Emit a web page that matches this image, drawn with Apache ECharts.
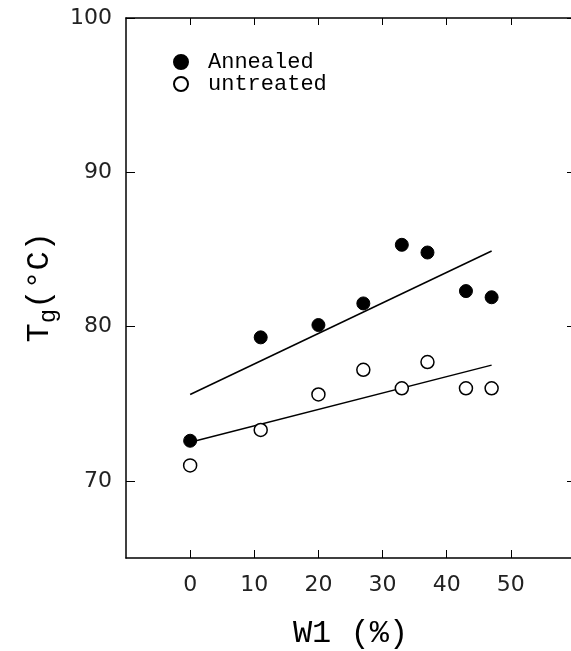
<!DOCTYPE html>
<html>
<head>
<meta charset="utf-8">
<script src="https://cdn.jsdelivr.net/npm/echarts@6/dist/echarts.min.js"></script>
<style>html,body{margin:0;padding:0;background:#fff;}#c{width:571px;height:651px;}</style>
</head>
<body>
<div id="c"></div>
<script>
// Data
var w1 = [0, 11, 20, 27, 33, 37, 43, 47];
var annealed = [72.6, 79.3, 80.1, 81.5, 85.3, 84.8, 82.3, 81.9];
var untreated = [71.0, 73.3, 75.6, 77.2, 76.0, 77.7, 76.0, 76.0];
var annealedFitX = [0, 47];
var annealedFitY = [75.6, 84.9];
var untreatedFitX = [0, 47];
var untreatedFitY = [72.5, 77.5];
var xTicks = [0, 10, 20, 30, 40, 50];
var yTicks = [70, 80, 90, 100];

function pairs(xs, ys) { return xs.map(function (x, i) { return [x, ys[i]]; }); }

var chart = echarts.init(document.getElementById('c'));
var labelFont = { fontFamily: 'DejaVu Sans', fontSize: 22, color: '#222' };
var mono = 'Liberation Mono';
chart.setOption({
  animation: false,
  backgroundColor: '#fff',
  grid: { left: 126, top: 18, width: 449, height: 540, outerBoundsMode: 'none', containLabel: false },
  legend: {
    orient: 'vertical', left: 168, top: 46, itemGap: 0,
    itemWidth: 14, itemHeight: 14,
    textStyle: { fontFamily: mono, fontSize: 22, lineHeight: 21, color: '#000', padding: [0, 0, 0, 15] },
    data: ['Annealed', 'untreated']
  },
  xAxis: [{
    type: 'value', min: -10, max: 60, interval: 10, position: 'bottom',
    name: 'W1 (%)', nameLocation: 'middle', nameGap: 60,
    nameTextStyle: { fontFamily: mono, fontSize: 32, color: '#000' },
    axisLine: { show: true, onZero: false, lineStyle: { color: '#000', width: 1.5 } },
    axisTick: { show: true, inside: true, length: 8, customValues: xTicks, lineStyle: { color: '#000' } },
    axisLabel: Object.assign({ customValues: xTicks, margin: 16 }, labelFont),
    splitLine: { show: false }
  }, {
    type: 'value', min: -10, max: 60, interval: 10, position: 'top',
    axisLine: { show: true, onZero: false, lineStyle: { color: '#000', width: 1.5 } },
    axisTick: { show: true, inside: true, length: 7, customValues: xTicks, lineStyle: { color: '#000' } },
    axisLabel: { show: false }, splitLine: { show: false }
  }],
  yAxis: [{
    type: 'value', min: 65, max: 100, interval: 5, position: 'left',
    axisLine: { show: true, onZero: false, lineStyle: { color: '#000', width: 1.5 } },
    axisTick: { show: true, inside: true, length: 9, customValues: yTicks, lineStyle: { color: '#000' } },
    axisLabel: Object.assign({ customValues: yTicks, margin: 14 }, labelFont),
    splitLine: { show: false }
  }, {
    type: 'value', min: 65, max: 100, interval: 5, position: 'right',
    axisLine: { show: true, onZero: false, lineStyle: { color: '#000', width: 1.5 } },
    axisTick: { show: true, inside: true, length: 8, customValues: yTicks, lineStyle: { color: '#000' } },
    axisLabel: { show: false }, splitLine: { show: false }
  }],
  graphic: [{
    type: 'text', left: 24, top: 232, rotation: Math.PI / 2,
    style: {
      text: '{a|T}{s|g}{a|(°C)}',
      rich: {
        a: { fontFamily: mono, fontSize: 32, fill: '#000' },
        s: { fontFamily: mono, fontSize: 24, fill: '#000', padding: [18, 0, 0, 0] }
      }
    }
  }],
  series: [{
    name: 'Annealed', type: 'scatter', symbol: 'circle', symbolSize: 13,
    itemStyle: { color: '#000', borderColor: '#000', borderWidth: 1, opacity: 1 },
    data: pairs(w1, annealed), z: 5
  }, {
    name: 'untreated', type: 'scatter', symbol: 'circle', symbolSize: 13,
    itemStyle: { color: '#fff', borderColor: '#000', borderWidth: 1.5, opacity: 1 },
    data: pairs(w1, untreated), z: 5
  }, {
    name: 'fitA', type: 'line', showSymbol: false, symbol: 'none',
    lineStyle: { color: '#000', width: 1.5 }, data: pairs(annealedFitX, annealedFitY), z: 3
  }, {
    name: 'fitU', type: 'line', showSymbol: false, symbol: 'none',
    lineStyle: { color: '#000', width: 1.5 }, data: pairs(untreatedFitX, untreatedFitY), z: 3
  }]
});
</script>
</body>
</html>
